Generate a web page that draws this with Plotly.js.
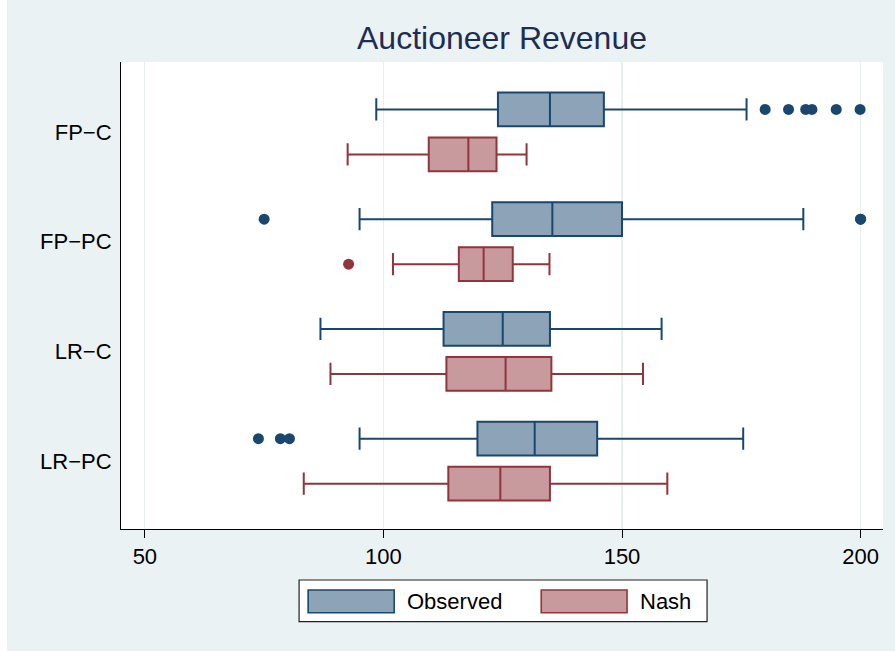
<!DOCTYPE html>
<html>
<head>
<meta charset="utf-8">
<script src="https://cdn.plot.ly/plotly-3.0.1.min.js"></script>
<style>
  html, body { margin: 0; padding: 0; background: #ffffff; }
  #chart { position: absolute; left: 7px; top: 0; width: 888px; height: 651px; }
</style>
</head>
<body>
<div id="chart"></div>
<script>
// ---- data ----
const categories = ['FP\u2212C', 'FP\u2212PC', 'LR\u2212C', 'LR\u2212PC'];

const obsLower  = [98.5, 95.0, 86.8, 95.0];
const obsQ1     = [124.0, 122.8, 112.6, 119.7];
const obsMedian = [134.9, 135.4, 125.0, 131.7];
const obsQ3     = [146.2, 150.0, 134.9, 144.8];
const obsUpper  = [176.1, 188.0, 158.3, 175.4];

const nashLower  = [92.5, 102.0, 88.9, 83.3];
const nashQ1     = [109.5, 115.8, 113.2, 113.6];
const nashMedian = [117.8, 121.0, 125.6, 124.5];
const nashQ3     = [123.7, 127.1, 135.2, 134.9];
const nashUpper  = [130.0, 134.8, 154.4, 159.5];

// outliers: category + value
const obsOutCat = ['FP\u2212C','FP\u2212C','FP\u2212C','FP\u2212C','FP\u2212C','FP\u2212C',
                   'FP\u2212PC','FP\u2212PC','FP\u2212PC',
                   'LR\u2212PC','LR\u2212PC','LR\u2212PC'];
const obsOutVal = [180.0, 184.9, 188.5, 189.8, 194.9, 199.9,
                   75.0, 200.0, 200.0,
                   73.8, 78.4, 80.3];
const nashOutCat = ['FP\u2212PC'];
const nashOutVal = [92.7];

const seriesNames = ['Observed', 'Nash'];
const xTicks = [50, 100, 150, 200];

// ---- styles ----
const navy = '#1A476F', navyFill = '#8DA3B7';
const maroon = '#90353B', maroonFill = '#C89A9D';
const FONT = 'Liberation Sans, Arial, Helvetica, sans-serif';

function statBox(name, lower, q1, med, q3, upper, lineColor, fill, group) {
  return {
    type: 'box', orientation: 'h', name: name,
    y: categories, q1: q1, median: med, q3: q3,
    lowerfence: lower, upperfence: upper,
    boxpoints: false, offsetgroup: group,
    line: { color: lineColor, width: 2 },
    fillcolor: fill, whiskerwidth: 0.66,
    showlegend: false, hoverinfo: 'x'
  };
}
function outlierTrace(cats, vals, color, group) {
  return {
    type: 'box', orientation: 'h',
    y: cats, x: vals, offsetgroup: group,
    boxpoints: 'all', jitter: 0, pointpos: 0,
    line: { width: 0, color: 'rgba(0,0,0,0)' },
    fillcolor: 'rgba(0,0,0,0)',
    marker: { color: color, size: 11, line: { width: 0 } },
    showlegend: false, hoverinfo: 'x'
  };
}

const traces = [
  statBox(seriesNames[0], obsLower, obsQ1, obsMedian, obsQ3, obsUpper, navy, navyFill, 'obs'),
  statBox(seriesNames[1], nashLower, nashQ1, nashMedian, nashQ3, nashUpper, maroon, maroonFill, 'nash'),
  outlierTrace(obsOutCat, obsOutVal, navy, 'obs'),
  outlierTrace(nashOutCat, nashOutVal, maroon, 'nash')
];

// manual legend (paper coords)
const lgY0 = -0.1985, lgY1 = -0.1092;
const swY0 = -0.1792, swY1 = -0.1306;
const shapes = [
  { type: 'rect', xref: 'paper', yref: 'paper', x0: 0.2337, x1: 0.7691, y0: lgY0, y1: lgY1,
    line: { color: '#222222', width: 1.2 }, fillcolor: '#ffffff', layer: 'above' },
  { type: 'rect', xref: 'paper', yref: 'paper', x0: 0.2456, x1: 0.3585, y0: swY0, y1: swY1,
    line: { color: navy, width: 1.6 }, fillcolor: navyFill, layer: 'above' },
  { type: 'rect', xref: 'paper', yref: 'paper', x0: 0.5515, x1: 0.6641, y0: swY0, y1: swY1,
    line: { color: maroon, width: 1.6 }, fillcolor: maroonFill, layer: 'above' }
];
const annotations = [
  { xref: 'paper', yref: 'paper', x: 0.3730, y: -0.1549, xanchor: 'left', yanchor: 'middle',
    text: seriesNames[0], showarrow: false, font: { family: FONT, size: 22, color: '#000' } },
  { xref: 'paper', yref: 'paper', x: 0.6790, y: -0.1549, xanchor: 'left', yanchor: 'middle',
    text: seriesNames[1], showarrow: false, font: { family: FONT, size: 22, color: '#000' } }
];

const layout = {
  width: 888, height: 651,
  margin: { l: 114, r: 12, t: 62, b: 122 },
  paper_bgcolor: '#EAF2F3',
  plot_bgcolor: '#ffffff',
  font: { family: FONT, size: 22, color: '#000' },
  title: {
    text: 'Auctioneer Revenue',
    font: { family: FONT, size: 32, color: '#1F2D55' },
    xref: 'paper', x: 0.5, xanchor: 'center',
    yref: 'paper', y: 1, yanchor: 'bottom', pad: { b: 13 }
  },
  boxmode: 'group', boxgap: 0.18, boxgroupgap: 0.25,
  showlegend: false,
  xaxis: {
    range: [45.0, 204.7],
    tickmode: 'array', tickvals: xTicks, ticktext: xTicks.map(String),
    ticks: 'outside', ticklen: 8, tickwidth: 1, tickcolor: '#000',
    showline: true, linecolor: '#000', linewidth: 1,
    showgrid: true, gridcolor: '#E7EFF1', gridwidth: 1.2,
    zeroline: false,
    tickfont: { family: FONT, size: 22, color: '#000' }
  },
  yaxis: {
    type: 'category', categoryorder: 'array', categoryarray: categories,
    range: [3.618, -0.637],
    ticks: 'outside', ticklen: 4, tickcolor: 'rgba(0,0,0,0)',
    showline: true, linecolor: '#000', linewidth: 1,
    showgrid: false, zeroline: false,
    tickfont: { family: FONT, size: 22, color: '#000' }
  },
  shapes: shapes,
  annotations: annotations
};

Plotly.newPlot('chart', traces, layout, { displayModeBar: false, staticPlot: true });
</script>
</body>
</html>
